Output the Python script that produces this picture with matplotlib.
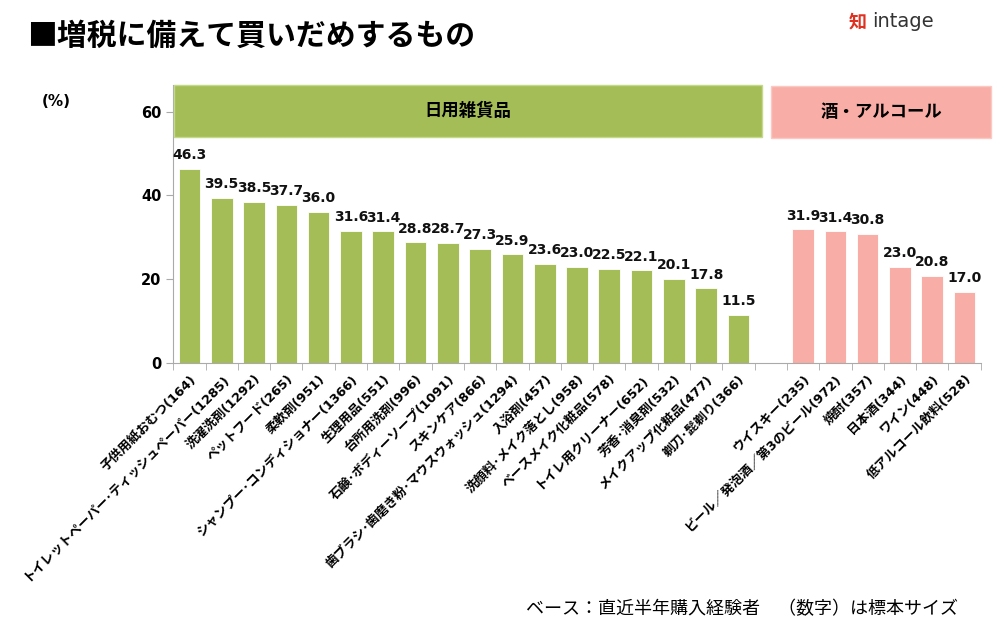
import matplotlib
matplotlib.use("Agg")
import matplotlib.pyplot as plt
from matplotlib.patches import Rectangle

plt.rcParams["font.family"] = ["Noto Sans CJK JP", "DejaVu Sans"]

# 日用雑貨品
daily_labels = ["子供用紙おむつ(164)", "トイレットペーパー･ティッシュペーパー(1285)", "洗濯洗剤(1292)",
                "ペットフード(265)", "柔軟剤(951)", "シャンプー･コンディショナー(1366)", "生理用品(551)",
                "台所用洗剤(996)", "石鹸･ボディーソープ(1091)", "スキンケア(866)",
                "歯ブラシ･歯磨き粉･マウスウォッシュ(1294)", "入浴剤(457)", "洗顔料･メイク落とし(958)",
                "ベースメイク化粧品(578)", "トイレ用クリーナー(652)", "芳香･消臭剤(532)",
                "メイクアップ化粧品(477)", "剃刀･髭剃り(366)"]
daily_values = [46.3, 39.5, 38.5, 37.7, 36.0, 31.6, 31.4, 28.8, 28.7, 27.3, 25.9, 23.6,
                23.0, 22.5, 22.1, 20.1, 17.8, 11.5]

# 酒・アルコール
alcohol_labels = ["ウイスキー(235)", "ビール／発泡酒／第3のビール(972)", "焼酎(357)",
                  "日本酒(344)", "ワイン(448)", "低アルコール飲料(528)"]
alcohol_values = [31.9, 31.4, 30.8, 23.0, 20.8, 17.0]

green = "#a5bd57"
pink = "#f8aea6"

fig = plt.figure(figsize=(10, 6.4), dpi=100)
ax = fig.add_axes([0.1733, 0.4333, 0.8074, 0.4344])

n_d = len(daily_values)
x_d = list(range(n_d))
x_a = [n_d + 1 + i for i in range(len(alcohol_values))]

bars_d = ax.bar(x_d, daily_values, width=0.67, color=green, edgecolor="white", linewidth=0.6)
bars_a = ax.bar(x_a, alcohol_values, width=0.67, color=pink, edgecolor="white", linewidth=0.6)

for bars, vals in ((bars_d, daily_values), (bars_a, alcohol_values)):
    for b, v in zip(bars, vals):
        ax.text(b.get_x() + b.get_width() / 2, v + 1.6, f"{v:.1f}", ha="center", va="bottom",
                fontsize=10, fontweight="bold", family="DejaVu Sans", color="#111111")

total = n_d + 1 + len(alcohol_values)
ax.set_xlim(-0.5, total - 0.5)
ax.set_ylim(0, 66.5)
ax.set_yticks([0, 20, 40, 60])
ax.set_yticklabels(["0", "20", "40", "60"], fontsize=10.5, fontweight="bold", family="DejaVu Sans")

ax.set_xticks([i - 0.5 for i in range(total + 1)], minor=True)
ax.set_xticks(x_d + x_a)
ax.set_xticklabels(daily_labels + alcohol_labels, rotation=45, ha="right", va="top",
                   rotation_mode="anchor", fontsize=9.3, fontweight="bold",
                   family=["DejaVu Sans", "Noto Sans CJK JP"])
ax.tick_params(axis="x", which="major", length=0, pad=7)
ax.tick_params(axis="x", which="minor", length=5, color="#aaaaaa")
ax.tick_params(axis="y", length=5, color="#aaaaaa")

for s in ("top", "right"):
    ax.spines[s].set_visible(False)
ax.spines["left"].set_color("#aaaaaa")
ax.spines["bottom"].set_color("#aaaaaa")

# category header boxes
ax.add_patch(Rectangle((-0.47, 54.0), 18.19, 12.5, facecolor=green, edgecolor="#c5d98a",
                       linewidth=1, clip_on=False, zorder=3))
ax.text(-0.47 + 18.19 / 2, 60.2, "日用雑貨品", ha="center", va="center", fontsize=12.5,
        fontweight="bold", zorder=4)
ax.add_patch(Rectangle((18.0, 53.8), 6.83, 12.5, facecolor=pink, edgecolor="#fbc9c3",
                       linewidth=1, clip_on=False, zorder=3))
ax.text(18.0 + 6.83 / 2, 60.0, "酒・アルコール", ha="center", va="center", fontsize=12.5,
        fontweight="bold", zorder=4)

fig.text(0.042, 0.842, "(%)", fontsize=11, fontweight="bold", family="DejaVu Sans", va="center")

fig.text(0.027, 0.944, "■増税に備えて買いだめするもの", fontsize=21.5, fontweight="bold", va="center")

fig.text(0.849, 0.966, "知", color="#e03020", fontsize=13, fontweight="bold", va="center")
fig.text(0.872, 0.966, "intage", color="#333333", fontsize=14, family="DejaVu Sans", va="center")

fig.text(0.958, 0.049, "ベース：直近半年購入経験者　（数字）は標本サイズ", fontsize=13, ha="right",
         va="center")

fig.savefig("out.png", dpi=100)
